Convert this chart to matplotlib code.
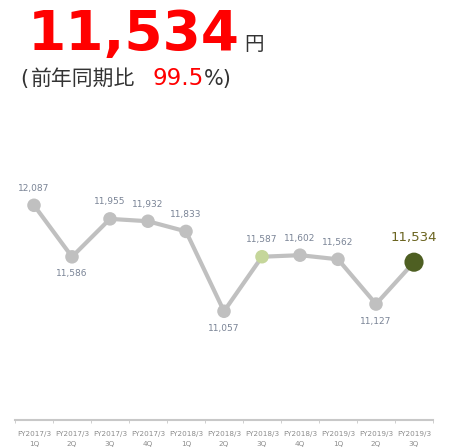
import numpy as np
import matplotlib
matplotlib.use("Agg")
import matplotlib.pyplot as plt

# データ
periods = ["FY2017/3\n1Q", "FY2017/3\n2Q", "FY2017/3\n3Q", "FY2017/3\n4Q",
           "FY2018/3\n1Q", "FY2018/3\n2Q", "FY2018/3\n3Q", "FY2018/3\n4Q",
           "FY2019/3\n1Q", "FY2019/3\n2Q", "FY2019/3\n3Q"]
values = [12087, 11586, 11955, 11932, 11833, 11057, 11587, 11602, 11562, 11127, 11534]
label_below = [False, True, False, False, False, True, False, False, False, True, False]
headline = "11,534"
ratio = "99.5"

plt.rcParams['font.family'] = ['DejaVu Sans', 'Noto Sans CJK JP']

fig = plt.figure(figsize=(4.53, 4.48), dpi=100)
ax = fig.add_axes([15/453, 1-420/448, 418/453, 250/448])

x = np.arange(len(values))
ax.plot(x, values, color="#c0c0c0", lw=3, zorder=1)
colors = ["#c0c0c0"] * len(values)
sizes = [95] * len(values)
colors[6] = "#c5d69a"
colors[-1] = "#4e5f22"
sizes[-1] = 190
ax.scatter(x, values, s=sizes, c=colors, zorder=2, linewidths=0)

for i, v in enumerate(values):
    txt = f"{v:,}"
    if i == len(values) - 1:
        ax.annotate(txt, (i, v), xytext=(0, 13), textcoords="offset points",
                    ha="center", va="bottom", fontsize=9.5, color="#6b6420")
    elif label_below[i]:
        ax.annotate(txt, (i, v), xytext=(0, -9), textcoords="offset points",
                    ha="center", va="top", fontsize=6.5, color="#7a8496")
    else:
        ax.annotate(txt, (i, v), xytext=(0, 9), textcoords="offset points",
                    ha="center", va="bottom", fontsize=6.5, color="#7a8496")

ax.set_xlim(-0.5, 10.5)
ax.set_ylim(10000, 12430)
ax.set_xticks(x)
ax.set_xticklabels(periods, fontsize=5.2, color="#8c8c8c", linespacing=1.8)
ax.set_xticks(np.arange(-0.5, 11, 1), minor=True)
ax.tick_params(axis="x", which="major", length=0, pad=8)
ax.tick_params(axis="x", which="minor", length=2, color="#c8c8c8")
ax.set_yticks([])
for s in ["left", "right", "top"]:
    ax.spines[s].set_visible(False)
ax.spines["bottom"].set_color("#c8c8c8")
ax.spines["bottom"].set_linestyle((0, (1, 1)))
ax.spines["bottom"].set_linewidth(1.5)
ax.patch.set_alpha(0)

fig.text(28/453, 1-50/448, headline, fontsize=39.5, fontweight="bold",
         color="#ff0000", ha="left", va="baseline")
fig.text(244/453, 1-50/448, "円", fontsize=14, color="#333333",
         ha="left", va="baseline", family=['Noto Sans CJK JP'])
fig.text(20/453, 1-85/448, "(", fontsize=15, color="#333333",
         ha="left", va="baseline")
fig.text(31/453, 1-85/448, "前年同期比", fontsize=15, color="#333333",
         ha="left", va="baseline", family=['Noto Sans CJK JP'])
fig.text(152/453, 1-85/448, ratio, fontsize=16.5, color="#ff0000",
         ha="left", va="baseline")
fig.text(204/453, 1-85/448, "%)", fontsize=15, color="#333333",
         ha="left", va="baseline")

fig.savefig("out.png", dpi=100)
